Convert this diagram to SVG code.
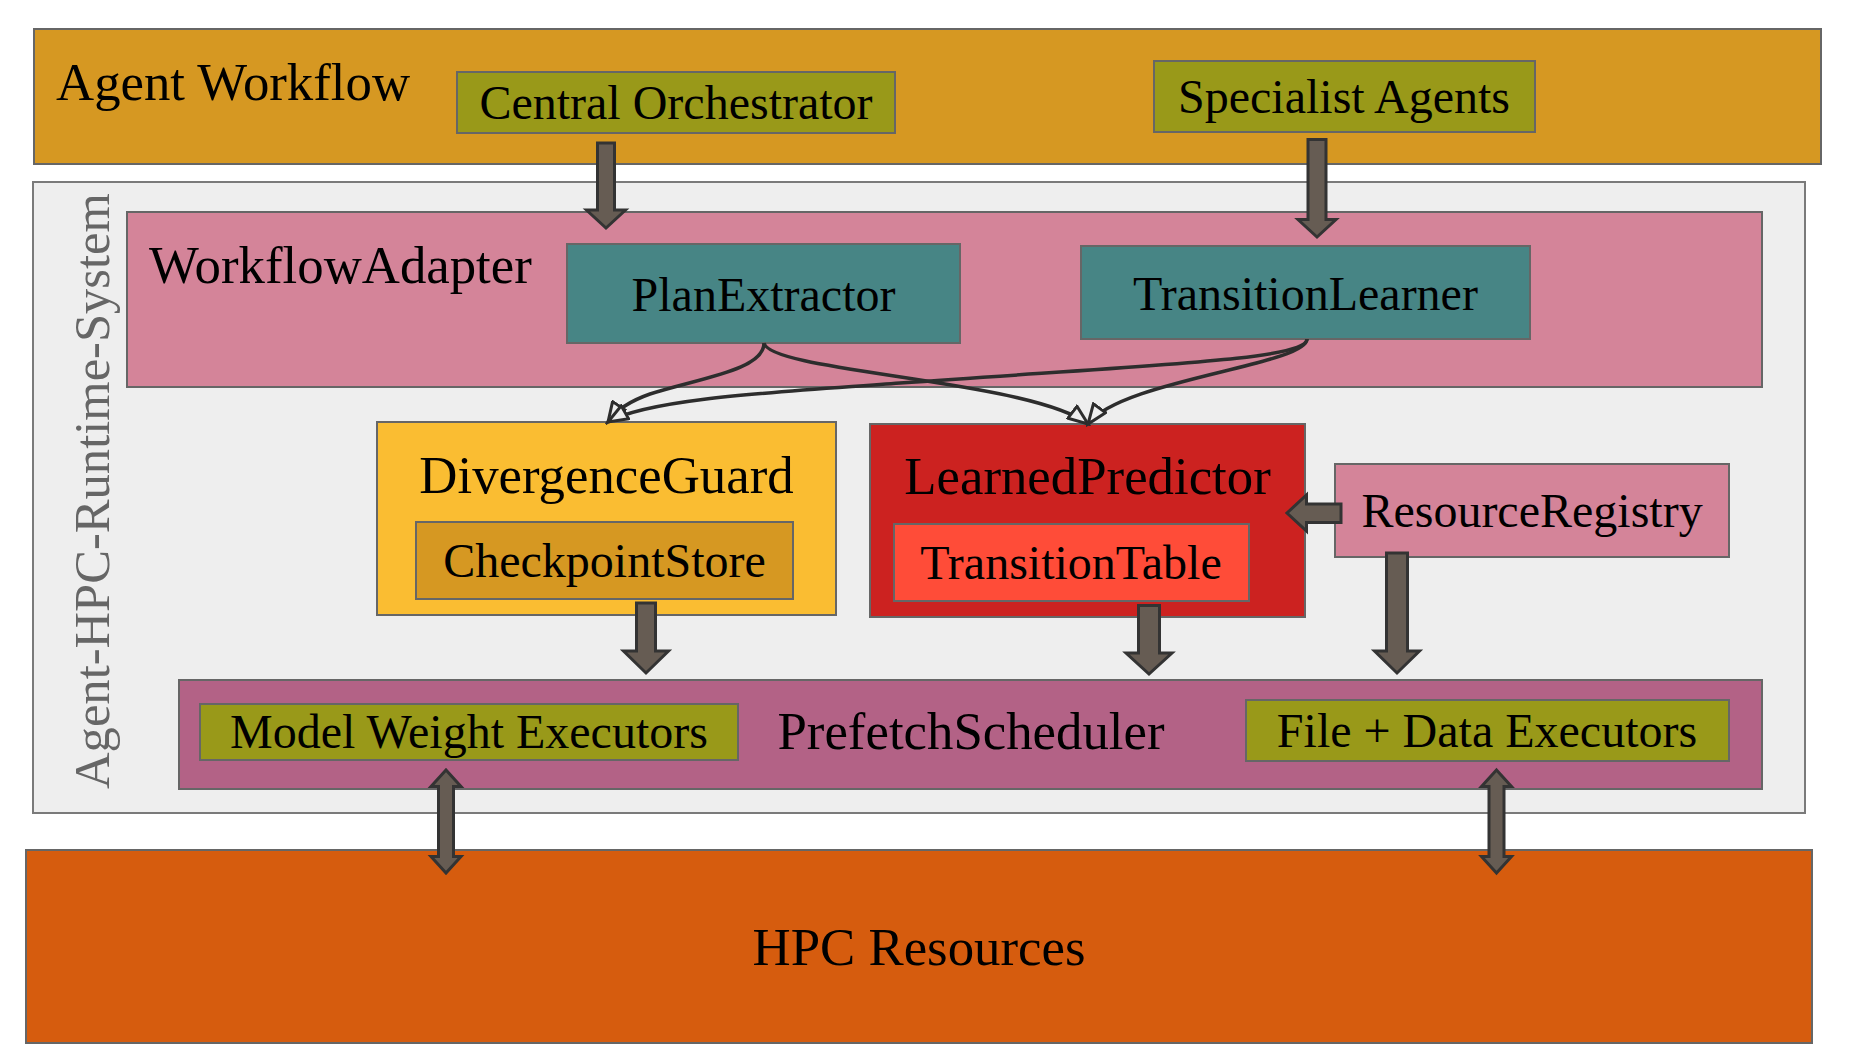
<svg xmlns="http://www.w3.org/2000/svg" width="1852" height="1063" viewBox="0 0 1852 1063">
<defs>
<style>
.box{stroke:#666;stroke-width:2}
.t{font-family:"Liberation Serif","Times New Roman",serif;fill:#000}
.h{font-size:52.8px}
.s{font-size:48px}
.c{text-anchor:middle}
.blk{fill:#665C53;stroke:#333;stroke-width:3}
.crv{fill:none;stroke:#2d2d2d;stroke-width:3.5}
</style>
<marker id="open" viewBox="0 0 24 18" refX="21" refY="9" markerWidth="24" markerHeight="18" markerUnits="userSpaceOnUse" orient="auto">
<path d="M1.5,1.5 L21,9 L1.5,16.5 Z" fill="#EEEEEE" stroke="#2d2d2d" stroke-width="3" stroke-linejoin="miter"/>
</marker>
</defs>
<rect width="1852" height="1063" fill="#fff"/>

<g id="agent-workflow">
<rect class="box" x="34" y="29" width="1787" height="135" fill="#D69822"/>
<text class="t h" x="56" y="100">Agent Workflow</text>
</g>
<g id="central-orchestrator">
<rect class="box" x="457" y="72" width="438" height="61" fill="#999919"/>
<text class="t s c" x="676" y="119">Central Orchestrator</text>
</g>
<g id="specialist-agents">
<rect class="box" x="1154" y="61" width="381" height="71" fill="#999919"/>
<text class="t s c" x="1344" y="113">Specialist Agents</text>
</g>

<g id="runtime-system">
<rect x="33" y="182" width="1772" height="631" fill="#EEEEEE" stroke="#7a7a7a" stroke-width="2"/>
<text class="t c" transform="translate(109,491) rotate(-90)" x="0" y="0" font-size="50.6" style="fill:#666">Agent-HPC-Runtime-System</text>
</g>

<g id="workflow-adapter">
<rect class="box" x="127" y="212" width="1635" height="175" fill="#D48499"/>
<text class="t h" x="149" y="283">WorkflowAdapter</text>
</g>
<g id="plan-extractor">
<rect class="box" x="567" y="244" width="393" height="99" fill="#478585"/>
<text class="t s c" x="763.5" y="311">PlanExtractor</text>
</g>
<g id="transition-learner">
<rect class="box" x="1081" y="246" width="449" height="93" fill="#478585"/>
<text class="t s c" x="1305.5" y="310">TransitionLearner</text>
</g>

<g id="divergence-guard">
<rect class="box" x="377" y="422" width="459" height="193" fill="#FABD32"/>
<text class="t h c" x="606.5" y="493">DivergenceGuard</text>
</g>
<g id="checkpoint-store">
<rect class="box" x="416" y="522" width="377" height="77" fill="#D69822"/>
<text class="t s c" x="604.5" y="577">CheckpointStore</text>
</g>

<g id="learned-predictor">
<rect class="box" x="870" y="424" width="435" height="193" fill="#CC2220"/>
<text class="t h c" x="1087.5" y="494">LearnedPredictor</text>
</g>
<g id="transition-table">
<rect class="box" x="894" y="524" width="355" height="77" fill="#FF4C38"/>
<text class="t s c" x="1071" y="579">TransitionTable</text>
</g>

<g id="resource-registry">
<rect class="box" x="1335" y="464" width="394" height="93" fill="#D48499"/>
<text class="t s c" x="1532" y="527">ResourceRegistry</text>
</g>

<g id="prefetch-scheduler">
<rect class="box" x="179" y="680" width="1583" height="109" fill="#B36286"/>
<text class="t h c" x="971" y="749">PrefetchScheduler</text>
</g>
<g id="model-weight-executors">
<rect class="box" x="200" y="704" width="538" height="56" fill="#999919"/>
<text class="t s c" x="469" y="748">Model Weight Executors</text>
</g>
<g id="file-data-executors">
<rect class="box" x="1246" y="700" width="483" height="61" fill="#999919"/>
<text class="t s c" x="1487" y="747">File + Data Executors</text>
</g>

<g id="hpc-resources">
<rect class="box" x="26" y="850" width="1786" height="193" fill="#D65C0E"/>
<text class="t h c" x="919" y="965">HPC Resources</text>
</g>

<g id="connectors">
<path class="crv" marker-end="url(#open)" d="M764,343 C764,370 700,378 650,394 C630,401 616,410 608,422"/>
<path class="crv" marker-end="url(#open)" d="M764,343 C770,372 1030,380 1088,424"/>
<path class="crv" marker-end="url(#open)" d="M1307,339 C1307,360 1150,365 900,383 C780,392 650,398 608,422"/>
<path class="crv" marker-end="url(#open)" d="M1307,339 C1307,365 1120,380 1088,424"/>

<polygon class="blk" points="597.5,143 614.5,143 614.5,210 625.5,210 606,228 586.5,210 597.5,210"/>
<polygon class="blk" points="1308,139.5 1326,139.5 1326,219.5 1336,219.5 1317,237 1298,219.5 1308,219.5"/>
<polygon class="blk" points="636.5,603 655.5,603 655.5,651 668.5,651 646,673 623.5,651 636.5,651"/>
<polygon class="blk" points="1138.5,605.5 1159.5,605.5 1159.5,653 1172,653 1149,674 1126,653 1138.5,653"/>
<polygon class="blk" points="1386.5,553 1407.5,553 1407.5,651 1419.5,651 1397,673 1374.5,651 1386.5,651"/>
<polygon class="blk" points="1341,504 1341,522.5 1306.5,522.5 1306.5,531 1287,513 1306.5,495 1306.5,504"/>
<polygon class="blk" points="446,770 461,786.5 453.5,786.5 453.5,856.5 461,856.5 446,873 431,856.5 438.5,856.5 438.5,786.5 431,786.5"/>
<polygon class="blk" points="1496.5,770 1511.5,786.5 1504,786.5 1504,856.5 1511.5,856.5 1496.5,873 1481.5,856.5 1489,856.5 1489,786.5 1481.5,786.5"/>
</g>
</svg>
